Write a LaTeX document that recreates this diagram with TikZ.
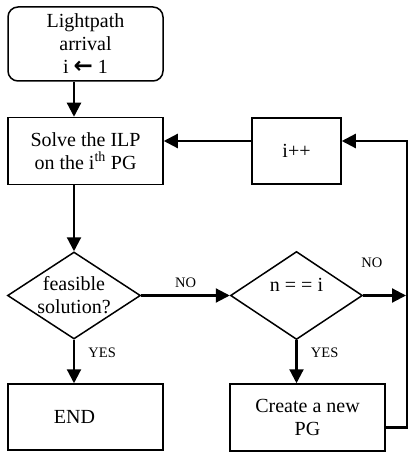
\documentclass[tikz,border=0pt]{standalone}
\usepackage{fontspec}
\setmainfont{Liberation Serif}
\newfontfamily\arrowfont{DejaVu Sans}
\usetikzlibrary{arrows.meta, shapes.geometric, calc}

\begin{document}
\begin{tikzpicture}[
    x=1pt, y=-1pt,
    txt/.style={font=\fontsize{20}{23}\selectfont},
    procbox/.style={rectangle, draw, line width=1.5pt, align=center, txt, inner sep=0pt},
    startbox/.style={procbox, rounded corners=10pt},
    decision/.style={diamond, draw, line width=1.5pt, inner sep=0pt},
    flow/.style={line width=2.2pt, -{Triangle[length=14pt, width=14pt]}},
    tag/.style={font=\fontsize{14.5}{16}\selectfont},
  ]
  \useasboundingbox (0,0) rectangle (409,454);

  % left column
  \node[startbox, minimum width=155pt, minimum height=74pt] (start) at (85.5,44)
      {Lightpath\\arrival\\i {\arrowfont\bfseries\fontsize{23}{23}\selectfont ←} 1};
  \node[procbox, minimum width=155pt, minimum height=67pt] (solve) at (85.5,151)
      {Solve the ILP\\on the i\textsuperscript{th} PG};
  \node[decision, minimum width=133pt, minimum height=87pt,
      label={[txt, align=center]center:feasible\\solution?}] (feas) at (74,295.5) {};
  \node[procbox, minimum width=155pt, minimum height=66pt,
      label={[txt, xshift=-11pt]center:END}] (fin) at (85.5,417) {};

  % right column
  \node[procbox, minimum width=89pt, minimum height=66pt] (incr) at (296.5,151) {i++};
  \node[decision, minimum width=132pt, minimum height=88pt,
      label={[txt, yshift=11pt]center:n = = i}] (test) at (296.5,295.5) {};
  \node[procbox, minimum width=155pt, minimum height=67pt] (create) at (307.5,417.5)
      {Create a new\\PG};

  \coordinate (rail) at (407,141);
  \coordinate (join) at (406,295.5);

  % connectors
  \draw[flow] (start.south -| feas.north) -- (solve.north -| feas.north);
  \draw[flow] (solve.south -| feas.north) -- (feas.north);
  \draw[flow] (feas.south) -- (fin.north -| feas.south)
      node[tag, pos=0.3, right=10pt] {YES};
  \draw[flow] (feas.east) -- (test.west)
      node[tag, midway, above=3pt] {NO};
  \draw[flow] (test.south) -- (create.north -| test.south)
      node[tag, pos=0.3, right=10pt] {YES};
  \draw[flow] (test.east) -- (join)
      node[tag, pos=0.2, above=23pt] {NO};
  \draw[flow] ([yshift=-10pt]create.east) -| (rail) -- (rail -| incr.east);
  \draw[flow] (rail -| incr.west) -- (rail -| solve.east);
\end{tikzpicture}
\end{document}
